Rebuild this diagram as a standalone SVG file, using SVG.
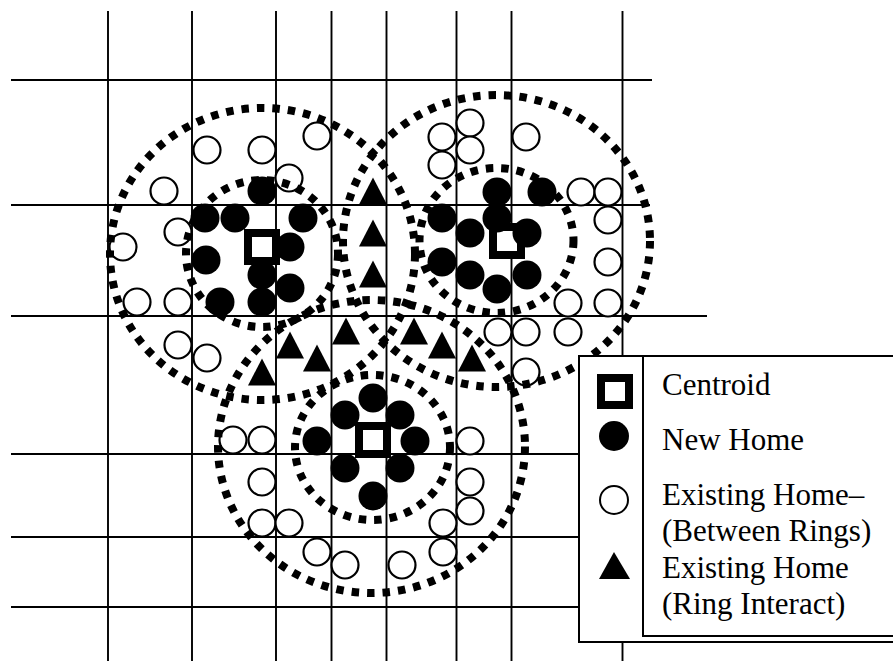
<svg xmlns="http://www.w3.org/2000/svg" xmlns:xlink="http://www.w3.org/1999/xlink" width="893" height="661" viewBox="0 0 893 661">
<style>
.g{stroke:#000;stroke-width:1.9;fill:none}
.ring{fill:none;stroke:#000;stroke-width:8;stroke-dasharray:7.5 8}
.nh{fill:#000}
.eh{fill:#fff;stroke:#000;stroke-width:2.2}
.cen{fill:#fff;stroke:#000;stroke-width:8}
.lt{font-family:"Liberation Serif","Times New Roman",serif;font-size:31px;fill:#000}
</style>
<defs>
<path id="tri" d="M0,-13.5 L14,13.5 L-14,13.5 Z" fill="#000"/>
</defs>
<rect width="893" height="661" fill="#fff"/>
<g id="grid" class="g">
<path d="M108,11V661M192,11V661M276,11V661M331.5,11V661M386.5,11V661M456.5,11V661M511.5,11V661M622.5,11V661"/>
<path d="M11,80H652M11,205H650M11,316H707M11,454H600M11,537H600M11,607H600"/>
</g>
<g id="centroids">
<rect class="cen" x="248" y="233" width="28" height="28"/>
<rect class="cen" x="493" y="227" width="28" height="28"/>
<rect class="cen" x="359" y="426" width="28" height="28"/>
</g>
<g id="cluster-a">
<circle class="nh" cx="262" cy="191" r="14.5"/>
<circle class="nh" cx="205" cy="218" r="14.5"/>
<circle class="nh" cx="235" cy="218" r="14.5"/>
<circle class="nh" cx="303" cy="218" r="14.5"/>
<circle class="nh" cx="290" cy="247" r="14.5"/>
<circle class="nh" cx="206" cy="260" r="14.5"/>
<circle class="nh" cx="262" cy="275" r="14.5"/>
<circle class="nh" cx="290" cy="288" r="14.5"/>
<circle class="nh" cx="220" cy="302" r="14.5"/>
<circle class="nh" cx="262" cy="302" r="14.5"/>
<circle class="eh" cx="207" cy="150" r="13.5"/>
<circle class="eh" cx="262" cy="150" r="13.5"/>
<circle class="eh" cx="317" cy="136" r="13.5"/>
<circle class="eh" cx="289" cy="178" r="13.5"/>
<circle class="eh" cx="164" cy="191" r="13.5"/>
<circle class="eh" cx="178" cy="232" r="13.5"/>
<circle class="eh" cx="123" cy="247" r="13.5"/>
<circle class="eh" cx="137" cy="302" r="13.5"/>
<circle class="eh" cx="178" cy="302" r="13.5"/>
<circle class="eh" cx="178" cy="345" r="13.5"/>
<circle class="eh" cx="207" cy="358" r="13.5"/>
</g>
<g id="cluster-b">
<circle class="nh" cx="497" cy="192" r="14.5"/>
<circle class="nh" cx="542" cy="192" r="14.5"/>
<circle class="nh" cx="442" cy="218" r="14.5"/>
<circle class="nh" cx="497" cy="218" r="14.5"/>
<circle class="nh" cx="470" cy="233" r="14.5"/>
<circle class="nh" cx="527" cy="233" r="14.5"/>
<circle class="nh" cx="442" cy="262" r="14.5"/>
<circle class="nh" cx="470" cy="275" r="14.5"/>
<circle class="nh" cx="527" cy="275" r="14.5"/>
<circle class="nh" cx="497" cy="289" r="14.5"/>
<circle class="eh" cx="442" cy="137" r="13.5"/>
<circle class="eh" cx="470" cy="123" r="13.5"/>
<circle class="eh" cx="470" cy="150" r="13.5"/>
<circle class="eh" cx="442" cy="165" r="13.5"/>
<circle class="eh" cx="526" cy="137" r="13.5"/>
<circle class="eh" cx="581" cy="192" r="13.5"/>
<circle class="eh" cx="608" cy="192" r="13.5"/>
<circle class="eh" cx="608" cy="220" r="13.5"/>
<circle class="eh" cx="608" cy="262" r="13.5"/>
<circle class="eh" cx="568" cy="303" r="13.5"/>
<circle class="eh" cx="608" cy="303" r="13.5"/>
<circle class="eh" cx="498" cy="332" r="13.5"/>
<circle class="eh" cx="526" cy="332" r="13.5"/>
<circle class="eh" cx="568" cy="332" r="13.5"/>
<circle class="eh" cx="526" cy="372" r="13.5"/>
</g>
<g id="cluster-c">
<circle class="nh" cx="373" cy="398" r="14.5"/>
<circle class="nh" cx="345" cy="415" r="14.5"/>
<circle class="nh" cx="400" cy="415" r="14.5"/>
<circle class="nh" cx="317" cy="441" r="14.5"/>
<circle class="nh" cx="415" cy="441" r="14.5"/>
<circle class="nh" cx="345" cy="468" r="14.5"/>
<circle class="nh" cx="400" cy="468" r="14.5"/>
<circle class="nh" cx="373" cy="496" r="14.5"/>
<circle class="eh" cx="233" cy="440" r="13.5"/>
<circle class="eh" cx="262" cy="440" r="13.5"/>
<circle class="eh" cx="262" cy="482" r="13.5"/>
<circle class="eh" cx="262" cy="523" r="13.5"/>
<circle class="eh" cx="289" cy="523" r="13.5"/>
<circle class="eh" cx="317" cy="552" r="13.5"/>
<circle class="eh" cx="345" cy="565" r="13.5"/>
<circle class="eh" cx="402" cy="565" r="13.5"/>
<circle class="eh" cx="443" cy="552" r="13.5"/>
<circle class="eh" cx="443" cy="523" r="13.5"/>
<circle class="eh" cx="470" cy="511" r="13.5"/>
<circle class="eh" cx="470" cy="482" r="13.5"/>
<circle class="eh" cx="470" cy="441" r="13.5"/>
</g>
<g id="ring-interact">
<use xlink:href="#tri" x="373" y="191"/>
<use xlink:href="#tri" x="373" y="233"/>
<use xlink:href="#tri" x="373" y="274"/>
<use xlink:href="#tri" x="346" y="331"/>
<use xlink:href="#tri" x="290" y="345"/>
<use xlink:href="#tri" x="317" y="358"/>
<use xlink:href="#tri" x="262" y="372"/>
<use xlink:href="#tri" x="414" y="331"/>
<use xlink:href="#tri" x="442" y="345"/>
<use xlink:href="#tri" x="472" y="358"/>
</g>
<g id="rings">
<ellipse class="ring" cx="262.5" cy="254" rx="152.5" ry="146"/>
<ellipse class="ring" cx="262" cy="253.5" rx="76" ry="73.5"/>
<ellipse class="ring" cx="496.5" cy="241" rx="153.5" ry="146"/>
<ellipse class="ring" cx="496.5" cy="240.5" rx="77" ry="72.5"/>
<ellipse class="ring" cx="371.5" cy="446.5" rx="153.5" ry="146.5"/>
<ellipse class="ring" cx="372.5" cy="447.5" rx="77.5" ry="72.5"/>
</g>
<g id="legend">
<rect x="579" y="356" width="320" height="286" fill="#fff" stroke="#000" stroke-width="2"/>
<path d="M643,357V636H893" fill="none" stroke="#000" stroke-width="2"/>
<rect x="601" y="378" width="28" height="27" fill="#fff" stroke="#000" stroke-width="8"/>
<circle cx="614" cy="436" r="15" fill="#000"/>
<circle cx="614" cy="500" r="14" fill="#fff" stroke="#000" stroke-width="2"/>
<path d="M614,552 L630,579 L599,579 Z" fill="#000"/>
<text class="lt" x="662" y="395">Centroid</text>
<text class="lt" x="662" y="450">New Home</text>
<text class="lt" x="662" y="505">Existing Home–</text>
<text class="lt" x="662" y="541">(Between Rings)</text>
<text class="lt" x="662" y="578">Existing Home</text>
<text class="lt" x="662" y="614">(Ring Interact)</text>
</g>
</svg>
